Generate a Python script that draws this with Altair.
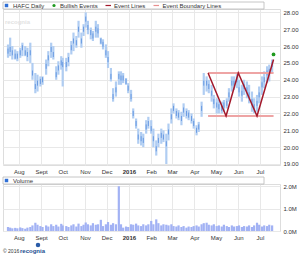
import altair as alt
import pandas as pd

dates = ["2015-07-17","2015-07-20","2015-07-23","2015-07-27","2015-07-30","2015-08-03","2015-08-06","2015-08-10",
 "2015-08-13","2015-08-17","2015-08-20","2015-08-24","2015-08-27","2015-08-31","2015-09-03","2015-09-08",
 "2015-09-11","2015-09-15","2015-09-18","2015-09-22","2015-09-25","2015-09-29","2015-10-01","2015-10-06",
 "2015-10-09","2015-10-13","2015-10-16","2015-10-20","2015-10-23","2015-10-27","2015-10-30","2015-11-02",
 "2015-11-05","2015-11-09","2015-11-12","2015-11-16","2015-11-19","2015-11-23","2015-11-26","2015-11-30",
 "2015-12-03","2015-12-07","2015-12-10","2015-12-14","2015-12-18","2015-12-21","2015-12-24","2015-12-28",
 "2015-12-31","2016-01-04","2016-01-07","2016-01-11","2016-01-14","2016-01-18","2016-01-21","2016-01-25",
 "2016-01-28","2016-02-01","2016-02-04","2016-02-08","2016-02-11","2016-02-15","2016-02-18","2016-02-22",
 "2016-02-25","2016-02-29","2016-03-03","2016-03-07","2016-03-10","2016-03-14","2016-03-17","2016-03-21",
 "2016-03-24","2016-03-28","2016-03-31","2016-04-04","2016-04-07","2016-04-11","2016-04-14","2016-04-18",
 "2016-04-21","2016-04-25","2016-04-28","2016-05-02","2016-05-05","2016-05-09","2016-05-12","2016-05-16",
 "2016-05-19","2016-05-23","2016-05-26","2016-05-30","2016-06-02","2016-06-06","2016-06-09","2016-06-13",
 "2016-06-16","2016-06-20","2016-06-23","2016-06-27","2016-06-30","2016-07-04","2016-07-07","2016-07-11",
 "2016-07-14","2016-07-18"]
high = [26.1,26.5,26.0,25.8,25.7,25.9,26.2,26.0,25.9,26.2,25.0,24.4,24.3,24.2,24.2,25.2,
 25.7,26.2,26.0,24.8,25.1,25.4,25.3,25.3,25.6,26.3,26.8,26.6,27.5,26.8,27.3,28.0,
 27.5,27.1,26.9,27.5,27.3,26.5,26.4,26.1,25.7,24.7,23.5,23.9,24.5,24.5,24.4,24.1,
 23.8,23.4,22.3,21.7,21.1,20.9,20.8,21.6,21.8,21.6,21.1,20.4,20.8,21.1,21.0,20.8,
 21.4,22.3,22.6,22.3,22.2,22.1,22.6,22.3,22.2,22.0,21.7,21.3,21.5,22.7,24.4,24.2,
 24.0,23.7,23.1,22.9,22.8,22.7,22.8,22.9,23.5,24.2,24.2,24.4,24.0,23.7,24.0,23.9,
 23.7,23.3,22.9,23.1,23.6,24.2,24.5,24.8,24.9,25.2]
low = [25.3,25.4,25.2,25.2,25.1,25.3,25.4,25.4,25.1,25.0,24.0,23.2,23.3,23.6,23.7,24.3,
 24.8,25.3,25.2,24.0,24.3,24.6,23.6,24.5,24.8,25.5,25.7,25.9,26.5,25.9,26.6,27.1,
 26.7,26.4,26.3,26.5,26.5,26.1,25.8,25.3,24.7,23.9,22.7,23.0,23.7,23.7,23.8,23.7,
 23.2,22.7,21.7,21.1,20.2,20.1,20.0,20.8,21.1,20.8,20.0,19.5,20.0,20.2,20.3,19.0,
 20.4,21.4,22.0,21.7,21.6,21.3,21.8,21.7,21.6,21.4,21.1,20.7,20.9,21.8,23.1,23.3,
 23.2,22.7,22.3,22.0,22.0,22.0,22.1,22.3,22.7,23.3,23.4,23.5,23.0,22.7,23.1,22.9,
 22.6,22.1,22.0,22.1,22.6,23.1,23.5,23.8,23.9,24.4]
close = [25.7,25.8,25.6,25.4,25.4,25.6,25.9,25.6,25.5,25.6,24.4,23.6,23.8,23.9,24.0,24.8,
 25.3,25.8,25.5,24.3,24.7,25.0,24.9,24.9,25.2,25.9,26.3,26.2,27.0,26.3,27.0,27.6,
 27.1,26.8,26.6,27.0,26.9,26.3,26.1,25.6,25.2,24.2,23.0,23.4,24.2,24.1,24.1,23.9,
 23.5,23.0,22.0,21.4,20.6,20.5,20.4,21.2,21.4,21.1,20.5,19.9,20.4,20.7,20.6,20.2,
 20.9,21.8,22.3,22.0,21.9,21.7,22.2,22.0,21.9,21.7,21.4,21.0,21.2,22.3,23.8,23.8,
 23.6,23.2,22.7,22.5,22.4,22.3,22.5,22.6,23.1,23.8,23.8,24.0,23.4,23.2,23.6,23.4,
 23.1,22.7,22.4,22.6,23.1,23.7,24.0,24.4,24.5,24.9]
volume_m = [0.18,0.15,0.12,0.14,0.12,0.16,0.13,0.10,0.15,0.18,0.25,0.37,0.28,0.22,0.18,0.25,
 0.20,0.30,0.22,0.28,0.20,0.32,0.25,0.22,0.18,0.25,0.30,0.20,0.33,0.22,0.28,0.38,
 0.30,0.25,0.35,0.28,0.30,0.50,0.22,0.30,0.40,0.28,0.35,0.30,2.00,0.30,0.15,0.20,
 0.18,0.30,0.28,0.33,0.25,0.22,0.30,0.25,0.30,0.45,0.30,0.52,0.35,0.25,0.30,0.28,
 0.25,0.30,0.22,0.20,0.25,0.18,0.22,0.15,0.20,0.18,0.22,0.25,0.20,0.30,0.35,0.37,
 0.28,0.25,0.30,0.22,0.25,0.20,0.28,0.22,0.18,0.25,0.20,0.22,0.25,0.18,0.22,0.20,
 0.25,0.18,0.25,0.37,0.28,0.20,0.25,0.22,0.28,0.25]

event_dates = ["2016-04-20", "2016-05-15", "2016-06-01", "2016-06-27", "2016-07-20"]
event_values = [24.4, 21.85, 24.4, 21.85, 25.2]
boundary_levels = [24.4, 21.85]
boundary_start = "2016-04-20"
boundary_end = "2016-07-20"
bullish_dates = ["2016-07-20"]
bullish_values = [25.5]
price_ticks = [19, 20, 21, 22, 23, 24, 25, 26, 27, 28]
volume_ticks = [0, 1, 2]
month_starts = [(2015, 8), (2015, 9), (2015, 10), (2015, 11), (2015, 12), (2016, 1),
                (2016, 2), (2016, 3), (2016, 4), (2016, 5), (2016, 6), (2016, 7)]

FONT = "Liberation Sans"
W = 277
HP = 156
HV = 47

prices = pd.DataFrame({"date": dates, "high": high, "low": low, "close": close})
prices["c1"] = prices["close"] - 0.15
prices["c2"] = prices["close"] + 0.15
vols = pd.DataFrame({"date": dates, "volume": volume_m})
events = pd.DataFrame({"date": event_dates, "value": event_values})
bounds = pd.DataFrame({"date": [boundary_start] * 2, "end": [boundary_end] * 2, "value": boundary_levels})
bull = pd.DataFrame({"date": bullish_dates, "value": bullish_values})
one = alt.Data(values=[{"k": 1}])

tick_vals = [alt.DateTime(year=y, month=m, date=1, utc=True) for y, m in month_starts]
xscale = alt.Scale(type="utc", domain=[alt.DateTime(year=2015, month=7, date=17, utc=True),
                                       alt.DateTime(year=2016, month=7, date=22, utc=True)])
label_expr = ("utcmonth(datum.value)==0 ? utcFormat(datum.value,'%Y') : "
              "(utcmonth(datum.value)==8 ? 'Sept' : utcFormat(datum.value,'%b'))")
xaxis = alt.Axis(values=tick_vals, labelExpr=label_expr, grid=True, gridColor="#e8e8e8",
                 ticks=False, domain=False, labelFontSize=6, labelColor="#333", labelFont=FONT,
                 labelPadding=3, title=None, labelOverlap=False, labelFlush=False,
                 labelFontWeight={"condition": {"test": "utcmonth(datum.value)==0", "value": "bold"},
                                  "value": "normal"})
X = alt.X("date:T", scale=xscale, axis=xaxis, title=None)

pscale = alt.Scale(domain=[18.94, 28.2], nice=False, zero=False)
yaxis = alt.Axis(orient="right", values=price_ticks, format=".2f", grid=True, gridColor="#e8e8e8",
                 ticks=False, domain=False, labelFontSize=6, labelColor="#333", labelFont=FONT,
                 labelPadding=3, title=None, labelOverlap=False, labelFlush=False)

def PY(f):
    return alt.Y(f, scale=pscale, axis=yaxis, title=None)

bars = alt.Chart(prices).mark_bar(width=2.2, color="#b0cdf2").encode(
    x=X, y=PY("high:Q"), y2="low:Q")
cores = alt.Chart(prices).mark_rule(color="#6a9be2", strokeWidth=1).encode(
    x=X, y=PY("c1:Q"), y2="c2:Q")
bnd = alt.Chart(bounds).mark_rule(color="#eea4a4", strokeWidth=2).encode(
    x=X, x2="end:T", y=PY("value:Q"))
evl = alt.Chart(events).mark_line(color="#a3192b", strokeWidth=1.5).encode(
    x=X, y=PY("value:Q"))
bpt = alt.Chart(bull).mark_circle(color="#1f9a1f", size=14, opacity=1).encode(
    x=X, y=PY("value:Q"))

def txt(s, x, y, color="#333", size=6, weight="normal"):
    return alt.Chart(one).mark_text(text=s, align="left", baseline="middle", font=FONT,
                                    fontSize=size, color=color, fontWeight=weight).encode(
        x=alt.value(x), y=alt.value(y))

ly = -3.5
legend_box = alt.Chart(one).mark_rect(fill="white", stroke="#b8b8b8", strokeWidth=0.8).encode(
    x=alt.value(0), x2=alt.value(261), y=alt.value(-7), y2=alt.value(0))
leg_sq = alt.Chart(one).mark_square(size=12, color="#2f6fd6", opacity=1).encode(
    x=alt.value(3.5), y=alt.value(ly))
leg_dot = alt.Chart(one).mark_circle(size=10, color="#1f9a1f", opacity=1).encode(
    x=alt.value(51), y=alt.value(ly))
leg_l1 = alt.Chart(one).mark_rule(color="#a3192b", strokeWidth=1.2).encode(
    x=alt.value(102.5), x2=alt.value(108), y=alt.value(ly))
leg_l2 = alt.Chart(one).mark_rule(color="#e88f8f", strokeWidth=1.2).encode(
    x=alt.value(150.5), x2=alt.value(156), y=alt.value(ly))
watermark = txt("recognia", 2, 13, color="#e2e2e2", size=6, weight="bold")

price = alt.layer(
    bars, cores, bnd, evl, bpt, watermark,
    legend_box, leg_sq, txt("HAFC Daily", 10, ly), leg_dot, txt("Bullish Events", 57, ly),
    leg_l1, txt("Event Lines", 111, ly), leg_l2, txt("Event Boundary Lines", 159.5, ly)
).properties(width=W, height=HP)

vaxis = alt.Axis(orient="right", values=volume_ticks, labelExpr="format(datum.value,'.1f')+'M'",
                 grid=True, gridColor="#e8e8e8", ticks=False, domain=False, labelFontSize=6,
                 labelColor="#333", labelFont=FONT, labelPadding=3, title=None,
                 labelOverlap=False, labelFlush=False)
vbars = alt.Chart(vols).mark_bar(width=2.2, color="#a2b2f4").encode(
    x=X, y=alt.Y("volume:Q", scale=alt.Scale(domain=[0, 2.1], nice=False), axis=vaxis, title=None))
vbox = alt.Chart(one).mark_rect(fill="white", stroke="#b8b8b8", strokeWidth=0.8).encode(
    x=alt.value(0), x2=alt.value(261), y=alt.value(-7), y2=alt.value(0))
vsq = alt.Chart(one).mark_square(size=12, color="#2f6fd6", opacity=1).encode(
    x=alt.value(3.5), y=alt.value(ly))
logo = alt.Chart(one).mark_circle(size=20, color="#2a5ca8", opacity=1).encode(
    x=alt.value(35), y=alt.value(61))
volume = alt.layer(
    vbars, vbox, vsq, txt("Volume", 10, ly),
    txt("© 2016", 0, 67, color="#333", size=5),
    txt("recognia", 17, 67, color="#1d4f91", size=6, weight="bold"), logo
).properties(width=W, height=HV)

chart = alt.vconcat(price, volume, spacing=19, bounds="flush").properties(
    padding={"left": 2, "top": 1, "right": 0, "bottom": 0}
).configure_view(stroke="#b0b0b0", strokeWidth=0.8).configure(background="white")

chart.save("out.html", embed_options={"renderer": "svg", "actions": False})
